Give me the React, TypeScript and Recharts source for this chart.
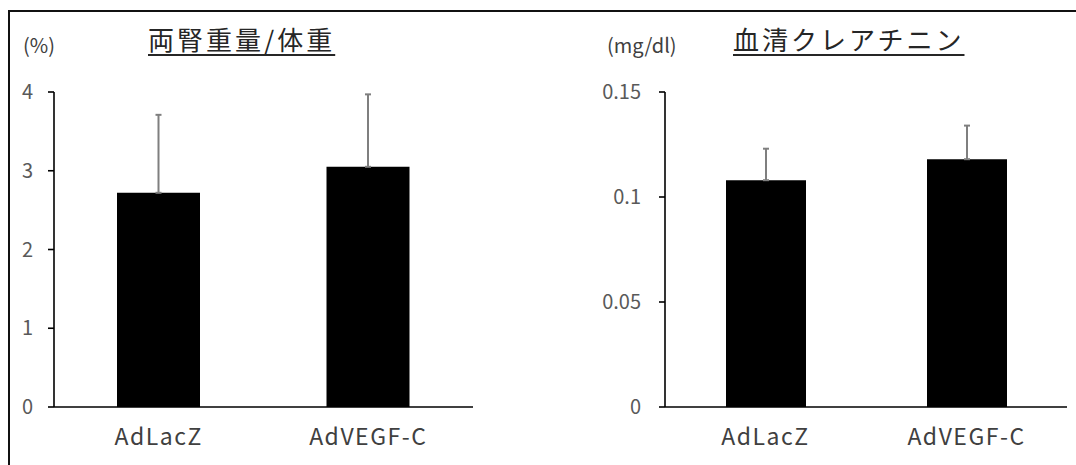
import { BarChart, Bar, XAxis, YAxis, ErrorBar } from "recharts"

const categories = ["AdLacZ", "AdVEGF-C"]
const kidneyMean = [2.72, 3.05]
const kidneySd = [0.99, 0.92]
const creatMean = [0.108, 0.118]
const creatSd = [0.015, 0.016]
const kidneyTicks = [0, 1, 2, 3, 4]
const creatTicks = [0, 0.05, 0.1, 0.15]

const kidneyData = categories.map((name, i) => ({ name, value: kidneyMean[i], err: [0, kidneySd[i]] }))
const creatData = categories.map((name, i) => ({ name, value: creatMean[i], err: [0, creatSd[i]] }))

const FONT = '"Noto Sans CJK JP", "Noto Sans", sans-serif'
const tickStyle = { fontSize: 20, fill: "#595959", fontFamily: FONT }
const catStyle = { fontSize: 23, fill: "#404040", fontFamily: FONT, letterSpacing: 1.5 }
const axisLine = { stroke: "#000", strokeWidth: 1.6 }

function Chart({ data, ticks, left, width, yWidth, right, barSize, tickMargin }: any) {
  return (
    <div style={{ position: "absolute", left, top: 0 }}>
      <BarChart width={width} height={465} data={data} margin={{ top: 92, bottom: 0, left: 0, right }}>
        <XAxis
          dataKey="name"
          height={58}
          axisLine={axisLine}
          tickLine={false}
          tickSize={0}
          tickMargin={22}
          tick={catStyle}
          interval={0}
        />
        <YAxis
          width={yWidth}
          domain={[ticks[0], ticks[ticks.length - 1]]}
          ticks={ticks}
          axisLine={axisLine}
          tickLine={{ stroke: "#000", strokeWidth: 1.6 }}
          tickSize={6}
          tickMargin={tickMargin}
          tick={tickStyle}
          allowDataOverflow
        />
        <Bar dataKey="value" fill="#000" barSize={barSize} isAnimationActive={false}>
          <ErrorBar dataKey="err" direction="y" width={3} stroke="#7f7f7f" strokeWidth={2} isAnimationActive={false} />
        </Bar>
      </BarChart>
    </div>
  )
}

const titleStyle: any = {
  position: "absolute",
  fontFamily: FONT,
  fontSize: 26,
  color: "#262626",
  textDecoration: "underline",
  textDecorationThickness: "1.5px",
  textUnderlineOffset: "4px",
  whiteSpace: "nowrap",
  lineHeight: "30px",
}

const unitStyle: any = {
  position: "absolute",
  fontFamily: FONT,
  fontSize: 20,
  color: "#404040",
  whiteSpace: "nowrap",
  lineHeight: "24px",
}

export default function App() {
  return (
    <div style={{ position: "absolute", left: 0, top: 0, width: 1076, height: 465, background: "#fff", overflow: "hidden" }}>
      <div
        style={{
          position: "absolute",
          left: 8,
          top: 10,
          width: 1090,
          height: 470,
          borderTop: "2px solid #111",
          borderLeft: "2px solid #111",
        }}
      />
      <Chart data={kidneyData} ticks={kidneyTicks} left={0} width={540} yWidth={54} right={67} barSize={83} tickMargin={15} />
      <Chart data={creatData} ticks={creatTicks} left={540} width={536} yWidth={125} right={9} barSize={80} tickMargin={18} />
      <div style={{ ...unitStyle, left: 23, top: 33 }}>(%)</div>
      <div style={{ ...titleStyle, left: 148, top: 24, letterSpacing: 3 }}>両腎重量/体重</div>
      <div style={{ ...unitStyle, left: 607, top: 33 }}>(mg/dl)</div>
      <div style={{ ...titleStyle, left: 733, top: 24, letterSpacing: 3 }}>血清クレアチニン</div>
    </div>
  )
}
